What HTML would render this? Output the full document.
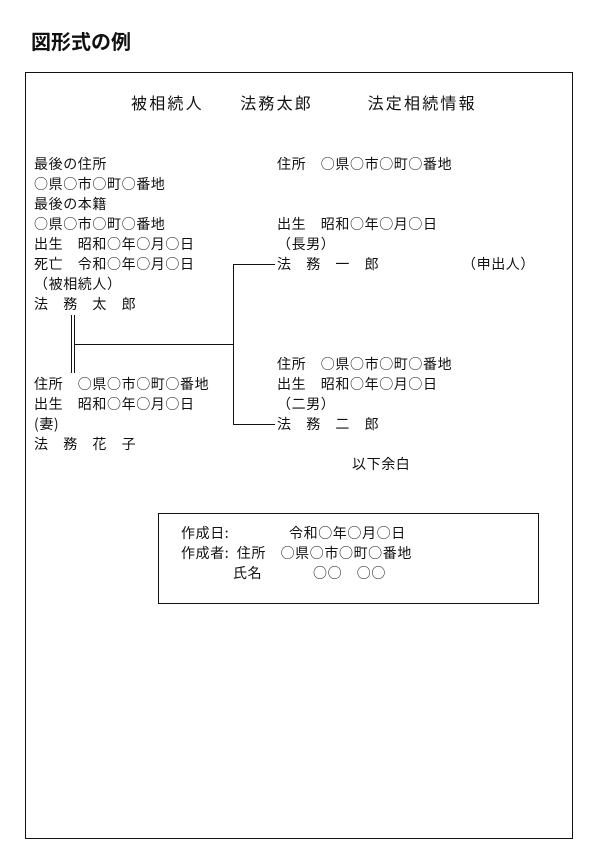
<!DOCTYPE html>
<html><head><meta charset="utf-8"><style>
html,body{margin:0;padding:0;background:#fff;}
body{width:600px;height:864px;position:relative;overflow:hidden;font-family:"Noto Sans CJK JP","Liberation Sans",sans-serif;color:#111;}
.t{position:absolute;font-size:14px;line-height:20px;white-space:pre;letter-spacing:0.6px;}
.l{position:absolute;background:#111;}
</style></head><body>
<div style="position:absolute;left:31px;top:28px;font-size:20px;font-weight:bold;line-height:26px;">図形式の例</div>
<div style="position:absolute;left:25px;top:72px;width:546px;height:765px;border:1px solid #111;"></div>
<div class="t" style="left:131px;top:91px;font-size:16px;line-height:22px;letter-spacing:2.2px;">被相続人　　法務太郎　　　法定相続情報</div>

<div class="t" style="left:34px;top:154px;">最後の住所</div>
<div class="t" style="left:34px;top:174px;">○県○市○町○番地</div>
<div class="t" style="left:34px;top:194px;">最後の本籍</div>
<div class="t" style="left:34px;top:214px;">○県○市○町○番地</div>
<div class="t" style="left:34px;top:234px;">出生　昭和○年○月○日</div>
<div class="t" style="left:34px;top:254px;">死亡　令和○年○月○日</div>
<div class="t" style="left:34px;top:274px;">（被相続人）</div>
<div class="t" style="left:34px;top:294px;">法　務　太　郎</div>
<div class="t" style="left:34px;top:374px;">住所　○県○市○町○番地</div>
<div class="t" style="left:34px;top:394px;">出生　昭和○年○月○日</div>
<div class="t" style="left:34px;top:414px;">(妻)</div>
<div class="t" style="left:34px;top:434px;">法　務　花　子</div>

<div class="t" style="left:277px;top:154px;">住所　○県○市○町○番地</div>
<div class="t" style="left:277px;top:214px;">出生　昭和○年○月○日</div>
<div class="t" style="left:277px;top:234px;">（長男）</div>
<div class="t" style="left:277px;top:254px;">法　務　一　郎</div>
<div class="t" style="left:462px;top:254px;">（申出人）</div>
<div class="t" style="left:277px;top:354px;">住所　○県○市○町○番地</div>
<div class="t" style="left:277px;top:374px;">出生　昭和○年○月○日</div>
<div class="t" style="left:277px;top:394px;">（二男）</div>
<div class="t" style="left:277px;top:414px;">法　務　二　郎</div>
<div class="t" style="left:352px;top:454px;">以下余白</div>

<div class="l" style="left:71px;top:315px;width:1px;height:58px;"></div>
<div class="l" style="left:74px;top:315px;width:1px;height:58px;"></div>
<div class="l" style="left:74px;top:344px;width:159px;height:1px;"></div>
<div class="l" style="left:233px;top:264px;width:1px;height:161px;"></div>
<div class="l" style="left:233px;top:264px;width:42px;height:1px;"></div>
<div class="l" style="left:233px;top:424px;width:42px;height:1px;"></div>

<div style="position:absolute;left:158px;top:513px;width:379px;height:89px;border:1px solid #111;"></div>
<div class="t" style="left:181px;top:523px;">作成日:</div>
<div class="t" style="left:289px;top:523px;">令和○年○月○日</div>
<div class="t" style="left:181px;top:543px;">作成者:  住所　○県○市○町○番地</div>
<div class="t" style="left:233px;top:563px;">氏名</div>
<div class="t" style="left:313px;top:563px;">○○　○○</div>
</body></html>
